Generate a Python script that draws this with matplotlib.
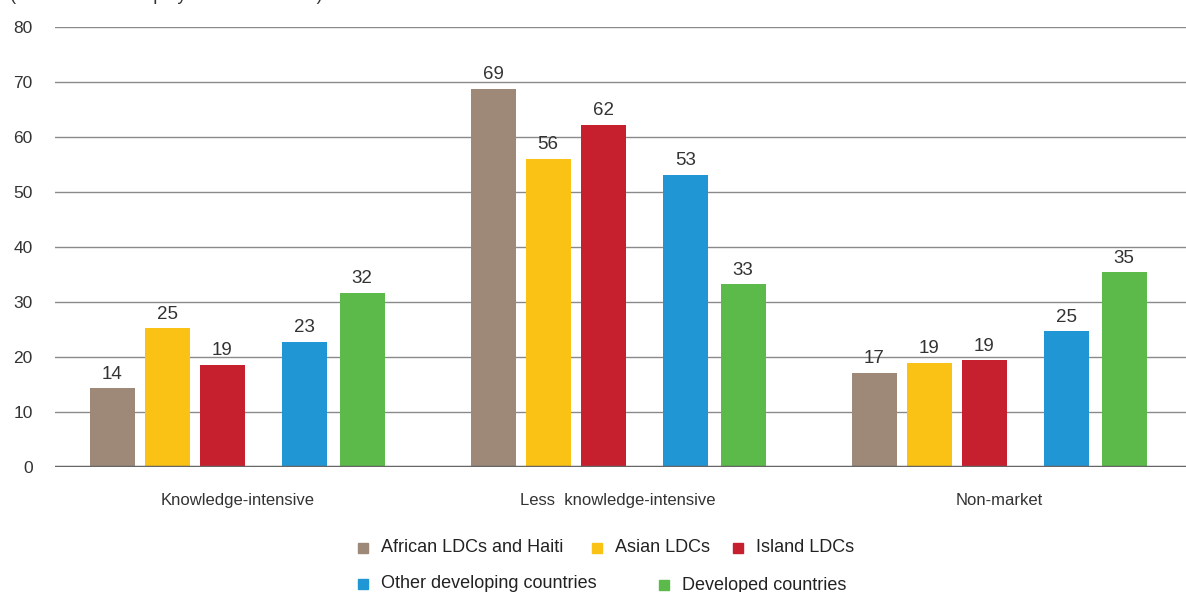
import numpy as np
import matplotlib.pyplot as plt
from matplotlib.patches import Rectangle

# Data (share of total employment in services, %)
categories = ["Knowledge-intensive", "Less  knowledge-intensive", "Non-market"]
groups = ["African LDCs and Haiti", "Asian LDCs", "Island LDCs",
          "Other developing countries", "Developed countries"]
african = [14.3, 68.8, 17.1]
asian = [25.2, 56.0, 19.0]
island = [18.6, 62.2, 19.4]
other_dev = [22.8, 53.1, 24.7]
developed = [31.7, 33.2, 35.4]
series = [african, asian, island, other_dev, developed]
colors = ["#9E8979", "#F9C214", "#C6202F", "#2196D4", "#5BBA4A"]

plt.rcParams["font.family"] = ["Liberation Sans", "DejaVu Sans"]
text_color = "#333333"

fig = plt.figure(figsize=(11.86, 5.92), dpi=100)
ax = fig.add_axes([55 / 1186, 1 - 467 / 592, 1 - 55 / 1186, 440 / 592])

x = np.arange(len(categories))
offsets = [-0.328, -0.184, -0.039, 0.176, 0.328]
width = 0.118

for vals, off, col in zip(series, offsets, colors):
    bars = ax.bar(x + off, vals, width, color=col, zorder=3)
    for b, v in zip(bars, vals):
        ax.annotate(f"{v:.0f}", (b.get_x() + b.get_width() / 2, v),
                    xytext=(0, 4), textcoords="offset points",
                    ha="center", va="bottom", fontsize=13.5, color=text_color)

ax.set_xlim(-0.478, 2.49)
ax.set_ylim(0, 80)
ax.set_yticks(range(0, 81, 10))
ax.yaxis.grid(True, color="#8a8a8a", linewidth=1.0, zorder=0)
ax.axhline(0, color="#666666", linewidth=2.5, zorder=4)
for s in ax.spines.values():
    s.set_visible(False)
ax.tick_params(axis="y", length=0, pad=16, labelsize=12.5, labelcolor=text_color)
ax.tick_params(axis="x", length=0, pad=19, labelsize=12, labelcolor=text_color)
ax.set_xticks(x)
ax.set_xticklabels(categories)

# Cut-off subtitle at the top
fig.text(10 / 1186, 1 - 4 / 592, "(Share of total employment in services)",
         ha="left", va="bottom", fontsize=13, color=text_color)

# Legend, drawn by hand in two rows
legend_pos = [(358, 548), (592, 548), (733, 548), (358, 584), (659, 585)]
for name, col, (px, py) in zip(groups, colors, legend_pos):
    fig.add_artist(Rectangle((px / 1186, 1 - (py + 5) / 592), 10 / 1186, 10 / 592,
                             transform=fig.transFigure, color=col))
    fig.text((px + 23) / 1186, 1 - py / 592, name, ha="left", va="center",
             fontsize=13, color="#222222")

fig.savefig("out.png", dpi=100)
